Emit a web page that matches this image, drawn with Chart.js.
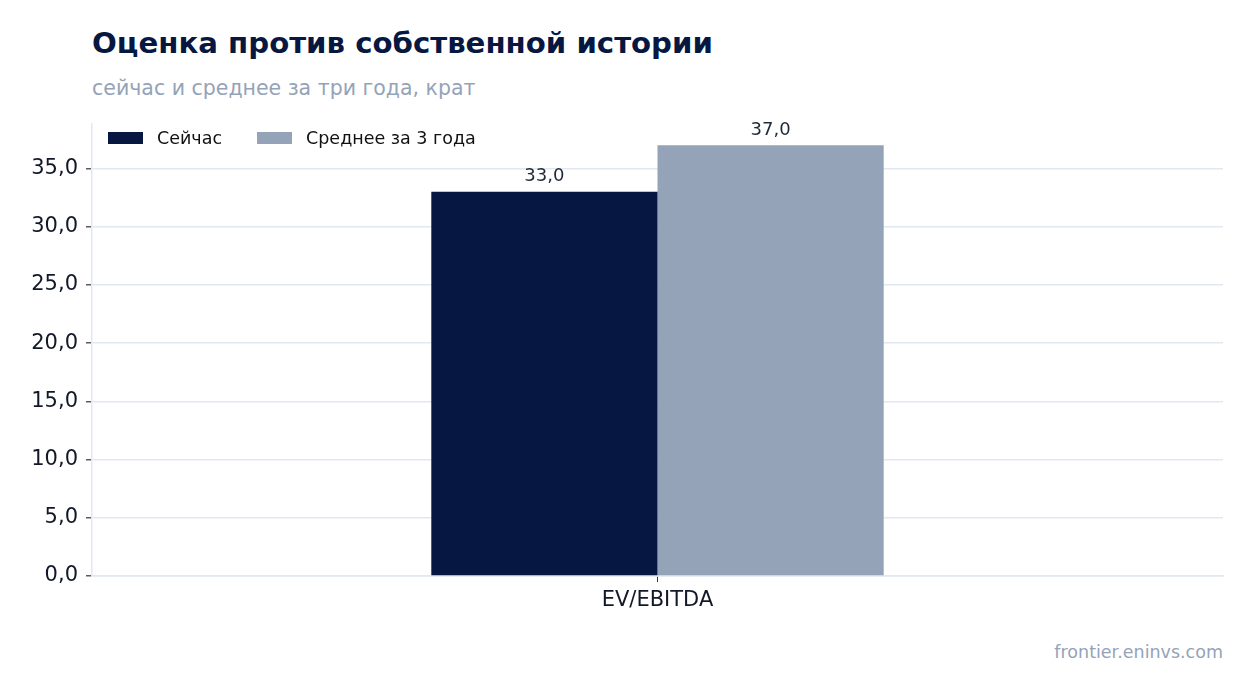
<!DOCTYPE html>
<html>
<head>
<meta charset="utf-8">
<script src="https://cdn.jsdelivr.net/npm/chart.js@4/dist/chart.umd.min.js"></script>
<style>
body {
    margin: 0;
    background: #fff;
    font-family: "DejaVu Sans", sans-serif;
}
.wrap {
    position: relative;
    width: 1254px;
    height: 693px;
}
.title {
    position: absolute;
    left: 92px;
    top: 26px;
    font-size: 29.2px;
    font-weight: bold;
    color: #061741;
}
.subtitle {
    position: absolute;
    left: 92px;
    top: 76px;
    font-size: 20.5px;
    color: #94a3b8;
}
.chart-box {
    position: absolute;
    left: 0;
    top: 103px;
    width: 1254px;
    height: 527px;
}
.legend {
    position: absolute;
    left: 108px;
    top: 128px;
    display: flex;
    font-size: 17.5px;
    color: #111;
    line-height: 20px;
}
.legend-item {
    display: flex;
    align-items: center;
    margin-right: 35px;
}
.legend-box {
    width: 35px;
    height: 12px;
    margin-right: 14px;
}
.source {
    position: absolute;
    right: 31px;
    top: 642px;
    font-size: 17.5px;
    color: #94a3b8;
}
</style>
</head>
<body>
<div class="wrap">
    <div class="title">Оценка против собственной истории</div>
    <div class="subtitle">сейчас и среднее за три года, крат</div>
    <div class="chart-box"><canvas id="grafico"></canvas></div>
    <div class="legend" id="legenda"></div>
    <div class="source">frontier.eninvs.com</div>
</div>

<script>
// Dados
const categorias = ['EV/EBITDA'];
const serieNomes = ['Сейчас', 'Среднее за 3 года'];
const valoresAgora = [33.0];
const valoresMedia = [37.0];
const cores = ['#061741', '#94a3b8'];

const fmt = v => v.toFixed(1).replace('.', ',');

// legenda em HTML
const legenda = document.getElementById('legenda');
serieNomes.forEach((nome, i) => {
    const item = document.createElement('div');
    item.className = 'legend-item';
    const box = document.createElement('span');
    box.className = 'legend-box';
    box.style.background = cores[i];
    item.appendChild(box);
    item.appendChild(document.createTextNode(nome));
    legenda.appendChild(item);
});

// rótulos acima das barras
const rotulos = {
    id: 'rotulos',
    afterDatasetsDraw(chart) {
        const ctx = chart.ctx;
        ctx.save();
        ctx.font = '18px "DejaVu Sans"';
        ctx.fillStyle = '#1e293b';
        ctx.textAlign = 'center';
        ctx.textBaseline = 'bottom';
        chart.data.datasets.forEach((ds, i) => {
            chart.getDatasetMeta(i).data.forEach((bar, j) => {
                ctx.fillText(fmt(ds.data[j]), bar.x, bar.y - 6);
            });
        });
        ctx.restore();
    }
};

new Chart(document.getElementById('grafico').getContext('2d'), {
    type: 'bar',
    data: {
        labels: categorias,
        datasets: [{
            label: serieNomes[0],
            data: valoresAgora,
            backgroundColor: cores[0],
            categoryPercentage: 0.4,
            barPercentage: 1
        }, {
            label: serieNomes[1],
            data: valoresMedia,
            backgroundColor: cores[1],
            categoryPercentage: 0.4,
            barPercentage: 1
        }]
    },
    options: {
        responsive: true,
        maintainAspectRatio: false,
        animation: false,
        layout: {
            padding: { top: 8, right: 31, left: 0, bottom: 0 }
        },
        plugins: {
            tooltip: { enabled: false },
            legend: { display: false }
        },
        scales: {
            x: {
                grid: {
                    drawOnChartArea: false,
                    offset: false,
                    tickColor: '#333',
                    tickLength: 6
                },
                border: { color: '#e2e8f0', width: 1.5 },
                ticks: {
                    color: '#111827',
                    padding: 6,
                    font: { family: 'DejaVu Sans', size: 21 }
                },
                afterFit(axis) { axis.height = 54; }
            },
            y: {
                min: 0,
                max: 38.85,
                ticks: {
                    stepSize: 5,
                    color: '#111827',
                    padding: 8,
                    font: { family: 'DejaVu Sans', size: 21 },
                    callback: v => fmt(v)
                },
                afterBuildTicks(axis) {
                    axis.ticks = axis.ticks.filter(t => t.value % 5 === 0);
                },
                grid: {
                    color: '#e2e8f0',
                    lineWidth: 1.6,
                    tickColor: '#333',
                    tickWidth: 1.2,
                    tickLength: 6
                },
                border: { color: '#e2e8f0', width: 1.5 },
                afterFit(axis) { axis.width = 92; }
            }
        }
    },
    plugins: [rotulos]
});
</script>
</body>
</html>
